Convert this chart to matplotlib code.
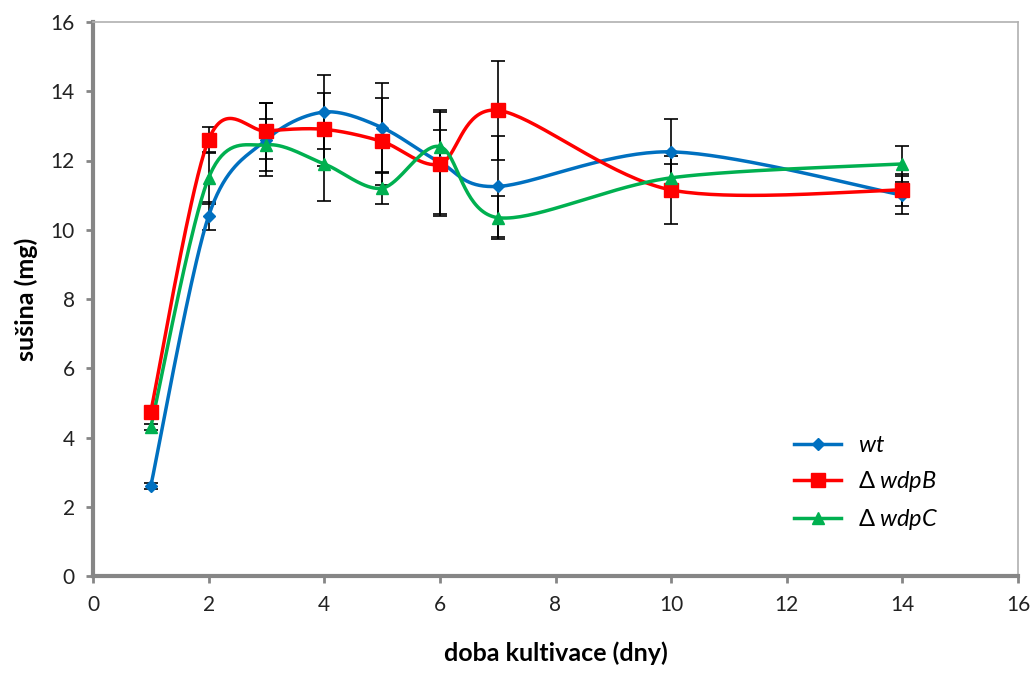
import numpy as np
import matplotlib
matplotlib.use("Agg")
import matplotlib.pyplot as plt
from matplotlib.lines import Line2D

plt.rcParams['font.family'] = ['Lato', 'DejaVu Sans']
plt.rcParams['mathtext.fontset'] = 'custom'
plt.rcParams['mathtext.rm'] = 'Lato'
plt.rcParams['mathtext.it'] = 'Lato:italic'

days = [1, 2, 3, 4, 5, 6, 7, 10, 14]
wt = [2.6, 10.4, 12.6, 13.4, 12.95, 11.95, 11.25, 12.25, 11.0]
wt_err = [0.08, 0.4, 1.05, 1.08, 1.28, 1.5, 1.45, 0.96, 0.55]
wdpB = [4.75, 12.6, 12.85, 12.9, 12.55, 11.9, 13.45, 11.15, 11.15]
wdpB_err = [0.08, 0.38, 0.8, 1.05, 1.25, 1.5, 1.43, 0.98, 0.45]
wdpC = [4.3, 11.5, 12.45, 11.9, 11.2, 12.4, 10.35, 11.5, 11.9]
wdpC_err = [0.08, 0.75, 0.75, 1.06, 0.45, 0.47, 0.62, 0.41, 0.53]

labels = [r"$\mathit{wt}$", r"$\Delta\;\mathit{wdpB}$", r"$\Delta\;\mathit{wdpC}$"]
colors = ['#0070C0', '#FF0000', '#00B050']
markers = ['D', 's', '^']
msizes = [6, 10, 9]


def smooth(x, y, n=40, k=6.5):
    x = np.asarray(x, float)
    y = np.asarray(y, float)
    P = np.column_stack([x, y])
    pts = []
    m = len(P)
    for i in range(m - 1):
        p0 = P[i - 1] if i > 0 else P[i]
        p1 = P[i]
        p2 = P[i + 1]
        p3 = P[i + 2] if i + 2 < m else P[i + 1]
        c1 = p1 + (p2 - p0) / k
        c2 = p2 - (p3 - p1) / k
        t = np.linspace(0, 1, n)[:, None]
        seg = ((1 - t) ** 3) * p1 + 3 * ((1 - t) ** 2) * t * c1 + 3 * (1 - t) * t ** 2 * c2 + t ** 3 * p2
        pts.append(seg if i == 0 else seg[1:])
    pts = np.vstack(pts)
    return pts[:, 0], pts[:, 1]


fig = plt.figure(figsize=(10.33, 6.73), dpi=100)
ax = fig.add_axes([93 / 1033, 1 - 576 / 673, (1018 - 93) / 1033, (576 - 22) / 673])

series = [(wt, wt_err), (wdpB, wdpB_err), (wdpC, wdpC_err)]
for (vals, errs), c in zip(series, colors):
    ax.errorbar(days, vals, yerr=errs, fmt='none', ecolor='black', elinewidth=1.2,
                capsize=5, capthick=1.2, zorder=2)

handles = []
for (vals, errs), c, mk, ms, lab in zip(series, colors, markers, msizes, labels):
    sx, sy = smooth(days, vals)
    ax.plot(sx, sy, color=c, lw=2.5, zorder=3, solid_capstyle='round')
    ax.plot(days, vals, ls='none', marker=mk, color=c, ms=ms, mec=c, zorder=4)
    handles.append(Line2D([0], [0], color=c, lw=2.5, marker=mk, ms=ms, mec=c))

ax.set_xlim(0, 16)
ax.set_ylim(0, 16)
ax.set_xticks(range(0, 17, 2))
ax.set_yticks(range(0, 17, 2))
ax.tick_params(axis='both', direction='out', length=5, width=2, color='#868686',
               labelsize=15, labelcolor='#222222')
ax.tick_params(axis='x', pad=9)
ax.tick_params(axis='y', pad=8)
for s in ['left', 'bottom']:
    ax.spines[s].set_color('#868686')
    ax.spines[s].set_linewidth(3)
for s in ['top', 'right']:
    ax.spines[s].set_color('#b0b0b0')
    ax.spines[s].set_linewidth(1.2)

ax.set_xlabel('doba kultivace (dny)', fontsize=18, fontweight='bold', labelpad=19)
ax.set_ylabel('sušina (mg)', fontsize=18, fontweight='bold', labelpad=9)

leg = ax.legend(handles, labels, loc='upper left', bbox_to_anchor=(0.735, 0.292),
                frameon=False, fontsize=17, handlelength=2.0, labelspacing=0.55,
                handletextpad=0.7)

fig.savefig('out.png', dpi=100)
